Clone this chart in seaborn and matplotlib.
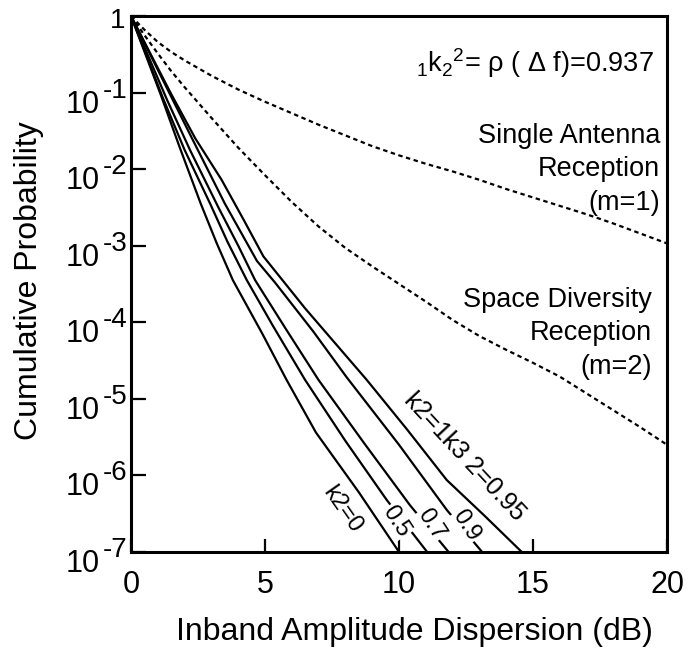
import numpy as np
import pandas as pd
import matplotlib
matplotlib.use("Agg")
import matplotlib.pyplot as plt
import seaborn as sns

# ---------------- data (x in dB, d = -log10(probability)) ----------------
single_x = [0, 0.5, 1, 1.5, 2, 3, 4, 5, 6, 7, 8, 9, 10, 11, 12, 13, 14, 15, 16, 17, 18, 19, 20]
single_d = [0, 0.18, 0.34, 0.47, 0.58, 0.78, 0.96, 1.12, 1.27, 1.42, 1.56, 1.70, 1.82, 1.93,
            2.03, 2.14, 2.26, 2.37, 2.48, 2.59, 2.71, 2.84, 2.97]

diversity_x = [0, 0.5, 1, 1.5, 2, 3, 4, 5, 6, 7, 8, 9, 10, 11, 12, 13, 14, 15, 16, 17, 18, 19, 20]
diversity_d = [0, 0.25, 0.49, 0.72, 0.93, 1.33, 1.72, 2.08, 2.43, 2.75, 3.03, 3.27, 3.50, 3.73,
               3.97, 4.18, 4.36, 4.53, 4.71, 4.93, 5.15, 5.37, 5.60]

k0_x = [0, 1.1, 1.8, 2.6, 3.2, 3.8, 4.9, 5.8, 6.9, 8.5, 10.0]
k0_d = [0, 1.02, 1.70, 2.45, 2.97, 3.45, 4.15, 4.75, 5.44, 6.22, 7.0]

k05_x = [0, 1.2, 2.0, 2.95, 3.6, 4.32, 5.3, 6.49, 8.0, 9.54, 11.05]
k05_d = [0, 1.08, 1.75, 2.45, 2.95, 3.45, 4.05, 4.75, 5.55, 6.32, 7.0]

k07_x = [0, 1.35, 2.2, 3.26, 4.0, 4.63, 5.8, 6.99, 8.7, 10.41, 11.85]
k07_d = [0, 1.1, 1.75, 2.5, 3.0, 3.45, 4.1, 4.75, 5.58, 6.39, 7.0]

k09_x = [0, 1.45, 2.45, 3.5, 4.7, 5.37, 6.8, 8.05, 10.0, 11.78, 13.1]
k09_d = [0, 1.02, 1.72, 2.45, 3.2, 3.48, 4.12, 4.72, 5.6, 6.45, 7.0]

k095_x = [0, 1.5, 2.4, 3.38, 4.2, 4.94, 6.5, 8.79, 10.3, 11.78, 13.2, 14.58]
k095_d = [0, 1.02, 1.6, 2.14, 2.66, 3.14, 3.82, 4.75, 5.4, 6.06, 6.53, 7.0]

solid_names = ["0", "0.5", "0.7", "0.9", "0.95"]
solid_xs = [k0_x, k05_x, k07_x, k09_x, k095_x]
solid_ds = [k0_d, k05_d, k07_d, k09_d, k095_d]

# in-line labels (text, x dB, d decades, rotation)
curve_labels = ["k2=0", "0.5", "0.7", "0.9", "k2=1k3 2=0.95"]
curve_label_x = [7.86, 9.9, 11.2, 12.5, 12.46]
curve_label_d = [6.45, 6.60, 6.64, 6.66, 5.76]
curve_label_rot = [-55, -57, -57, -57, -47]
curve_label_size = [17, 17, 17, 17, 18]
curve_label_box = [False, True, True, True, False]

x_ticks = [0, 5, 10, 15, 20]
y_exps = [0, 1, 2, 3, 4, 5, 6, 7]

# ---------------- style ----------------
sns.set_theme(style="white")
plt.rcParams["font.family"] = ["Liberation Sans", "DejaVu Sans"]
plt.rcParams["mathtext.fontset"] = "custom"
plt.rcParams["mathtext.rm"] = "Liberation Sans"
plt.rcParams["mathtext.it"] = "Liberation Sans:italic"
plt.rcParams["mathtext.bf"] = "Liberation Sans:bold"

fig = plt.figure(figsize=(6.9, 6.53), dpi=100)
ax = fig.add_axes([0.1899, 0.1547, 0.7768, 0.8208])

dot = (0, (2.0, 1.6))
for xs, ds in [(single_x, single_d), (diversity_x, diversity_d)]:
    df = pd.DataFrame({"x": xs, "p": 10.0 ** (-np.array(ds))})
    sns.lineplot(data=df, x="x", y="p", ax=ax, color="black", lw=1.6,
                 linestyle=dot, estimator=None, sort=False)

for xs, ds in zip(solid_xs, solid_ds):
    df = pd.DataFrame({"x": xs, "p": 10.0 ** (-np.array(ds))})
    sns.lineplot(data=df, x="x", y="p", ax=ax, color="black", lw=1.6,
                 estimator=None, sort=False)

ax.set_yscale("log")
ax.set_xlim(0, 20)
ax.set_ylim(1e-7, 1)
ax.set_yticks([10.0 ** (-e) for e in y_exps])
ax.set_yticklabels([""] * len(y_exps))
ax.yaxis.set_minor_locator(matplotlib.ticker.NullLocator())
ax.set_xticks(x_ticks)
ax.set_xticklabels([str(t) for t in x_ticks])

ax.tick_params(axis="y", direction="in", length=11, width=1.6, left=True, right=False,
               pad=3, labelsize=21, colors="black")
ax.tick_params(axis="x", direction="in", length=9.5, width=1.6, bottom=True, top=False,
               pad=13, labelsize=22, colors="black")
for s in ax.spines.values():
    s.set_color("black")
    s.set_linewidth(2.2)

# y tick labels: "1", then "10" with a large raised exponent
for e in y_exps:
    yv = 10.0 ** (-e)
    if e == 0:
        ax.annotate("1", xy=(0, yv), xycoords=("axes fraction", "data"),
                    xytext=(-6, -12), textcoords="offset pixels",
                    ha="right", va="baseline", fontsize=20, color="black")
    else:
        ax.annotate("10", xy=(0, yv), xycoords=("axes fraction", "data"),
                    xytext=(-31, -20), textcoords="offset pixels",
                    ha="right", va="baseline", fontsize=22, color="black")
        ax.annotate("-%d" % e, xy=(0, yv), xycoords=("axes fraction", "data"),
                    xytext=(-4, -5), textcoords="offset pixels",
                    ha="right", va="baseline", fontsize=20, color="black")

ax.set_xlabel("Inband Amplitude Dispersion (dB)", fontsize=23, color="black")
ax.set_ylabel("Cumulative Probability", fontsize=23, color="black")
ax.xaxis.set_label_coords(0.528, -0.122)
ax.yaxis.set_label_coords(-0.162, 0.506)

for txt, lx, ld, rot, fs, box in zip(curve_labels, curve_label_x, curve_label_d,
                                     curve_label_rot, curve_label_size, curve_label_box):
    kw = {}
    if box:
        kw["bbox"] = dict(facecolor="white", edgecolor="none", pad=0.6)
    ax.text(lx, 10.0 ** (-ld), txt, rotation=rot, rotation_mode="anchor",
            ha="center", va="center", fontsize=fs, color="black", **kw)

ax.text(0.975, 0.912, r"$\mathregular{{}_1k_2{}^{2}}$= ρ ( Δ f)=0.937", transform=ax.transAxes,
        ha="right", va="center", fontsize=19.5, color="black")
ax.text(0.987, 0.80, "Single Antenna\nReception\n(m=1)", transform=ax.transAxes,
        ha="right", va="top", multialignment="right", fontsize=19.5, color="black",
        linespacing=1.36)
ax.text(0.972, 0.494, "Space Diversity\nReception\n(m=2)", transform=ax.transAxes,
        ha="right", va="top", multialignment="right", fontsize=19.5, color="black",
        linespacing=1.36)

fig.savefig("out.png", dpi=100, facecolor="white")
